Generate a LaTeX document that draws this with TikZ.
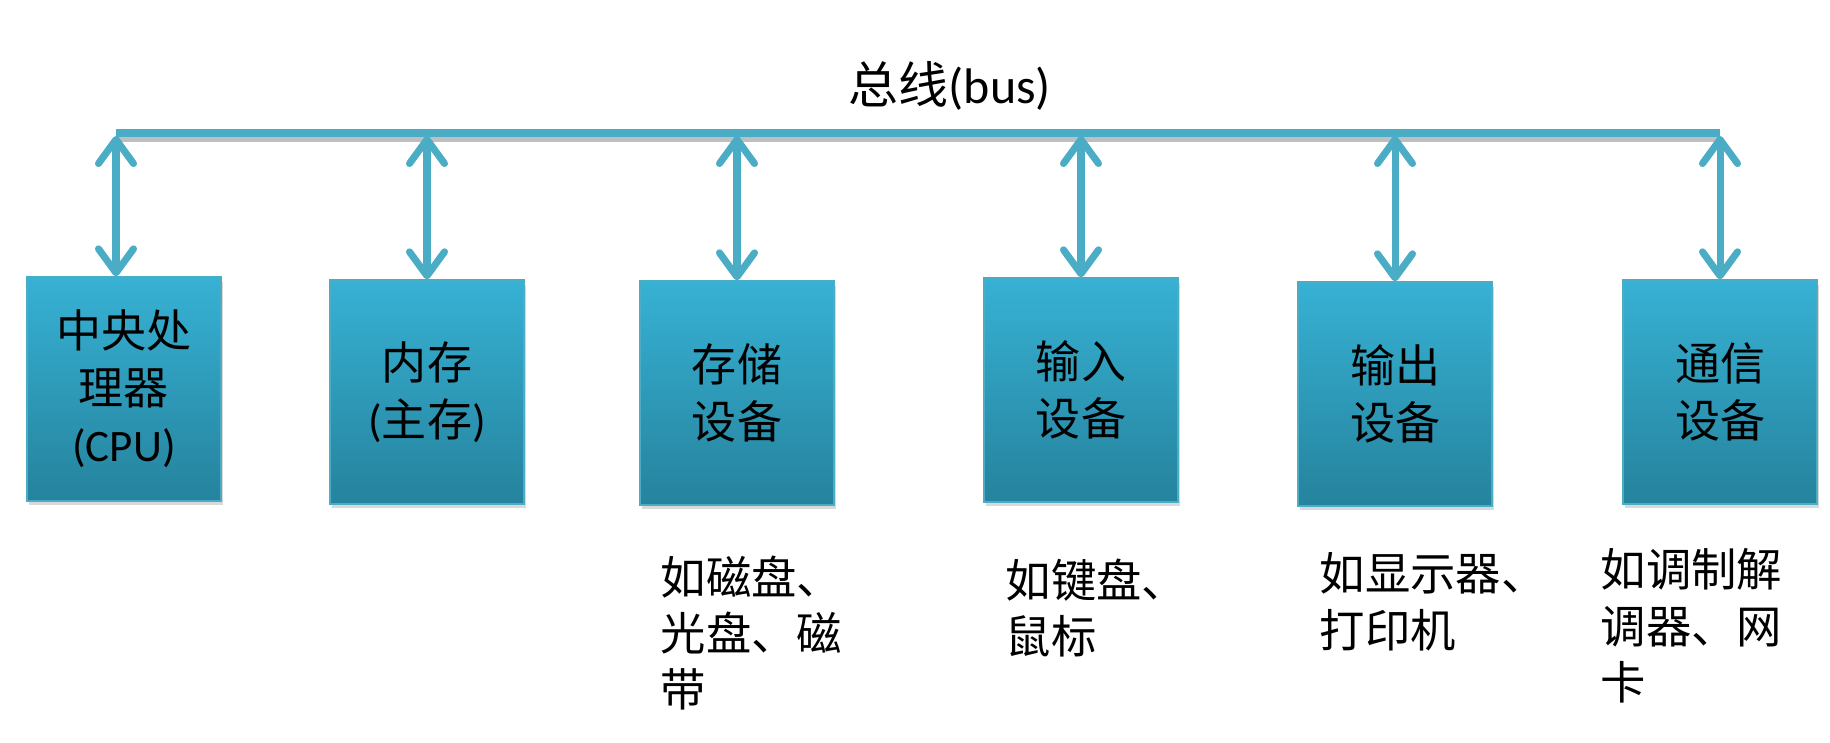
\documentclass[tikz,border=0pt]{standalone}
\usepackage{fontspec}
\setmainfont{Carlito}
\newfontfamily\cjk{Noto Sans CJK SC}
\usepackage{tikz}
\usetikzlibrary{arrows.meta,shadows}
\definecolor{busblue}{RGB}{75,172,198}
\definecolor{boxtop}{RGB}{55,177,212}
\definecolor{boxbot}{RGB}{37,131,157}
\newcommand\zh[1]{{\cjk #1}}

\begin{document}
\begin{tikzpicture}[x=0.01cm,y=-0.01cm,
    unit/.style={draw=busblue, line width=0.6pt, top color=boxtop, bottom color=boxbot,
        minimum width=1.94cm, minimum height=2.23cm, inner sep=0pt, align=center,
        font=\fontsize{12.8}{16.2}\selectfont,
        drop shadow={shadow xshift=0.5pt, shadow yshift=-1.2pt, opacity=0.3}},
    note/.style={anchor=north west, align=left, inner sep=0pt, font=\fontsize{12.9}{16}\selectfont},
    link/.style={busblue, line width=2pt,
        {Straight Barb[length=2.4mm,width=3.5mm,round]}-{Straight Barb[length=2.4mm,width=3.5mm,round]}}]
    \useasboundingbox (0,0) rectangle (1830,743);
    \node[font=\fontsize{14.2}{17}\selectfont] (buslabel) at (950,86) {\zh{总线}(bus)};
    \coordinate (bl) at (116,133);
    \coordinate (br) at (1720,133);
    \draw[black!25, line width=2pt] ([yshift=-1.5pt]bl) -- ([yshift=-1.5pt]br);
	\draw[busblue, line width=2pt] (bl) -- (br);
    \node[unit] (cpu) at (124,389) {\zh{中央处}\\\zh{理器}\\(CPU)};
    \node[unit] (mem) at (427,392) {\zh{内存}\\(\zh{主存})};
    \node[unit] (disk) at (737,393) {\zh{存储}\\\zh{设备}};
    \node[unit] (in) at (1081,390) {\zh{输入}\\\zh{设备}};
    \node[unit] (out) at (1395,394) {\zh{输出}\\\zh{设备}};
    \node[unit] (net) at (1720,392) {\zh{通信}\\\zh{设备}};
    \coordinate (t1) at (116,136);
    \coordinate (t2) at (427,136);
    \coordinate (t3) at (737,136);
    \coordinate (t4) at (1081,136);
    \coordinate (t5) at (1395,136);
    \coordinate (t6) at (1720,136);
	\draw[link] (t1) -- (t1 |- cpu.north);
	\draw[link] (t2) -- (mem.north);
	\draw[link] (t3) -- (disk.north);
	\draw[link] (t4) -- (in.north);
	\draw[link] (t5) -- (out.north);
	\draw[link] (t6) -- (net.north);
    \node[note] (disknote) at (660,555) {\zh{如磁盘、}\\\zh{光盘、磁}\\\zh{带}};
    \node[note] (innote) at (1005,558) {\zh{如键盘、}\\\zh{鼠标}};
    \node[note] (outnote) at (1319,552) {\zh{如显示器、}\\\zh{打印机}};
    \node[note] (netnote) at (1600,548) {\zh{如调制解}\\\zh{调器、网}\\\zh{卡}};
\end{tikzpicture}
\end{document}
